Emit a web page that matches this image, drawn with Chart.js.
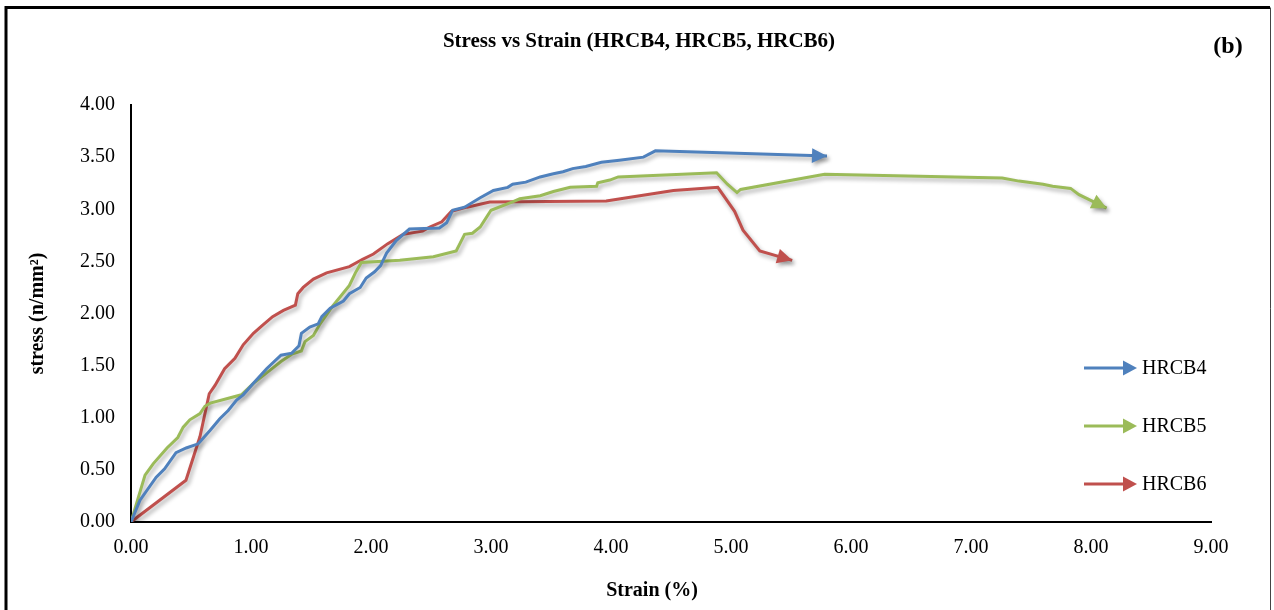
<!DOCTYPE html>
<html>
<head>
<meta charset="utf-8">
<title>Stress vs Strain (HRCB4, HRCB5, HRCB6)</title>
<script src="https://cdn.jsdelivr.net/npm/chart.js@4.4.1/dist/chart.umd.min.js"></script>
<style>
  html, body { margin: 0; padding: 0; background: #fff; }
  canvas { display: block; }
</style>
</head>
<body>
<canvas id="stressChart" width="1274" height="610"></canvas>
<script>
// series (strain in %, stress in n/mm²)
const seriesNames = ['HRCB4', 'HRCB5', 'HRCB6'];
const seriesColors = ['#4F81BD', '#9BBB59', '#C0504D'];

const strainB4 = [0, 0.075, 0.21, 0.28, 0.375, 0.46, 0.56, 0.66, 0.74, 0.81, 0.88, 0.935, 1.02, 1.13, 1.25, 1.34, 1.40, 1.42, 1.49, 1.56, 1.59, 1.66, 1.77, 1.82, 1.91, 1.96, 2.03, 2.08, 2.13, 2.21, 2.32, 2.57, 2.63, 2.68, 2.78, 2.91, 3.02, 3.14, 3.18, 3.29, 3.41, 3.52, 3.60, 3.68, 3.79, 3.92, 4.07, 4.27, 4.37, 5.80];
const stressB4 = [0, 0.21, 0.43, 0.51, 0.665, 0.71, 0.75, 0.88, 0.99, 1.07, 1.17, 1.22, 1.33, 1.47, 1.60, 1.62, 1.69, 1.81, 1.87, 1.90, 1.97, 2.05, 2.12, 2.19, 2.25, 2.34, 2.40, 2.46, 2.58, 2.70, 2.81, 2.82, 2.87, 2.99, 3.02, 3.11, 3.18, 3.21, 3.24, 3.26, 3.31, 3.34, 3.36, 3.39, 3.41, 3.45, 3.47, 3.50, 3.56, 3.51];

const strainB5 = [0, 0.117, 0.186, 0.30, 0.39, 0.435, 0.49, 0.575, 0.616, 0.66, 0.92, 1.02, 1.13, 1.25, 1.34, 1.42, 1.45, 1.52, 1.57, 1.68, 1.82, 1.87, 1.92, 2.24, 2.52, 2.71, 2.78, 2.845, 2.91, 3.00, 3.18, 3.24, 3.41, 3.52, 3.66, 3.88, 3.89, 3.99, 4.06, 4.88, 4.97, 5.05, 5.08, 5.78, 7.26, 7.40, 7.60, 7.68, 7.83, 7.90, 8.13];
const stressB5 = [0, 0.45, 0.56, 0.71, 0.81, 0.91, 0.98, 1.04, 1.11, 1.14, 1.22, 1.33, 1.43, 1.54, 1.61, 1.64, 1.73, 1.79, 1.89, 2.07, 2.27, 2.39, 2.49, 2.51, 2.545, 2.60, 2.76, 2.77, 2.83, 2.99, 3.07, 3.10, 3.13, 3.17, 3.21, 3.22, 3.255, 3.28, 3.31, 3.35, 3.24, 3.16, 3.19, 3.335, 3.30, 3.27, 3.24, 3.22, 3.20, 3.14, 3.01];

const strainB6 = [0, 0.458, 0.575, 0.652, 0.70, 0.78, 0.866, 0.935, 1.02, 1.10, 1.18, 1.27, 1.37, 1.39, 1.435, 1.52, 1.63, 1.82, 1.93, 2.02, 2.14, 2.27, 2.43, 2.49, 2.59, 2.67, 2.80, 2.99, 3.96, 4.24, 4.52, 4.89, 5.03, 5.10, 5.24, 5.51];
const stressB6 = [0, 0.40, 0.82, 1.23, 1.31, 1.47, 1.57, 1.70, 1.81, 1.89, 1.97, 2.03, 2.08, 2.19, 2.25, 2.33, 2.39, 2.45, 2.52, 2.57, 2.67, 2.76, 2.79, 2.83, 2.88, 2.98, 3.02, 3.07, 3.08, 3.13, 3.18, 3.21, 2.98, 2.80, 2.60, 2.51];

const xTicks = [0, 1, 2, 3, 4, 5, 6, 7, 8, 9];
const yTicks = [0, 0.5, 1, 1.5, 2, 2.5, 3, 3.5, 4];

const SERIF = "'Liberation Serif', 'Times New Roman', serif";

function toPoints(xs, ys) {
    return xs.map((x, i) => ({ x: x, y: ys[i] }));
}

// filled triangle, tip at (x, y), pointing along angle
function drawArrowHead(ctx, x, y, angle, len, half, color) {
    ctx.save();
    ctx.translate(x, y);
    ctx.rotate(angle);
    ctx.beginPath();
    ctx.moveTo(0, 0);
    ctx.lineTo(-len, -half);
    ctx.lineTo(-len, half);
    ctx.closePath();
    ctx.fillStyle = color;
    ctx.fill();
    ctx.restore();
}

// soft drop shadow + arrow ends on every series (Excel style)
const arrowLines = {
    id: 'arrowLines',
    beforeDatasetsDraw(chart) {
        const ctx = chart.ctx;
        ctx.save();
        ctx.shadowColor = 'rgba(0, 0, 0, 0.32)';
        ctx.shadowBlur = 4;
        ctx.shadowOffsetX = 2;
        ctx.shadowOffsetY = 3;
    },
    afterDatasetsDraw(chart) {
        const ctx = chart.ctx;
        chart.data.datasets.forEach((ds, i) => {
            const pts = chart.getDatasetMeta(i).data;
            const a = pts[pts.length - 2];
            const b = pts[pts.length - 1];
            const angle = Math.atan2(b.y - a.y, b.x - a.x);
            drawArrowHead(ctx, b.x, b.y, angle, 15, 7.5, ds.borderColor);
        });
        ctx.restore();
    }
};

// frame, chart title, panel letter, x-axis title and the arrow legend
const decorations = {
    id: 'decorations',
    afterDraw(chart) {
        const ctx = chart.ctx;
        ctx.save();

        // outer frame (no bottom edge in the reference)
        ctx.strokeStyle = '#000';
        ctx.lineWidth = 3;
        ctx.beginPath();
        ctx.moveTo(6, 610);
        ctx.lineTo(6, 7.5);
        ctx.lineTo(1270, 7.5);
        ctx.stroke();
        ctx.lineWidth = 1;
        ctx.strokeStyle = '#444';
        ctx.beginPath();
        ctx.moveTo(1270.5, 7.5);
        ctx.lineTo(1270.5, 610);
        ctx.stroke();

        ctx.fillStyle = '#000';
        ctx.textBaseline = 'middle';
        ctx.textAlign = 'center';
        ctx.font = 'bold 21px ' + SERIF;
        ctx.fillText('Stress vs Strain (HRCB4, HRCB5, HRCB6)', 639, 42);
        ctx.font = 'bold 24px ' + SERIF;
        ctx.fillText('(b)', 1228, 47);
        ctx.font = 'bold 20px ' + SERIF;
        ctx.fillText('Strain (%)', 652, 591);

        // legend
        const legendTop = 368, legendGap = 58;
        ctx.font = '20px ' + SERIF;
        ctx.textAlign = 'left';
        chart.data.datasets.forEach((ds, i) => {
            const y = legendTop + i * legendGap;
            ctx.strokeStyle = ds.borderColor;
            ctx.lineWidth = 3;
            ctx.beginPath();
            ctx.moveTo(1084, y);
            ctx.lineTo(1124, y);
            ctx.stroke();
            drawArrowHead(ctx, 1137, y, 0, 14, 7.5, ds.borderColor);
            ctx.fillStyle = '#000';
            ctx.fillText(ds.label, 1142, y + 1);
        });

        ctx.restore();
    }
};

function renderStressChart() {
    const canvas = document.getElementById('stressChart');
    const ctx = canvas.getContext('2d');

    const datasets = [
        toPoints(strainB4, stressB4),
        toPoints(strainB5, stressB5),
        toPoints(strainB6, stressB6)
    ].map((pts, i) => ({
        label: seriesNames[i],
        data: pts,
        showLine: true,
        borderColor: seriesColors[i],
        backgroundColor: seriesColors[i],
        borderWidth: 3,
        pointRadius: 0,
        tension: 0,
        fill: false
    }));

    new Chart(ctx, {
        type: 'scatter',
        data: { datasets: datasets },
        options: {
            responsive: false,
            animation: false,
            layout: { padding: { left: 10, right: 63, top: 105, bottom: 0 } },
            plugins: {
                legend: { display: false },
                tooltip: { enabled: false },
                title: { display: false }
            },
            scales: {
                x: {
                    type: 'linear',
                    min: 0,
                    max: 9,
                    afterFit: scale => { scale.height = 88; },
                    afterBuildTicks: scale => { scale.ticks = xTicks.map(v => ({ value: v })); },
                    grid: { display: false, drawTicks: false },
                    border: { display: true, color: '#000', width: 2 },
                    ticks: {
                        color: '#000',
                        padding: 14,
                        font: { family: SERIF, size: 20 },
                        callback: v => v.toFixed(2)
                    }
                },
                y: {
                    type: 'linear',
                    min: 0,
                    max: 4,
                    afterFit: scale => { scale.width = 121; },
                    afterBuildTicks: scale => { scale.ticks = yTicks.map(v => ({ value: v })); },
                    grid: { display: false, drawTicks: false },
                    border: { display: true, color: '#000', width: 2 },
                    ticks: {
                        color: '#000',
                        padding: 16,
                        font: { family: SERIF, size: 20 },
                        callback: v => v.toFixed(2)
                    },
                    title: {
                        display: true,
                        text: 'stress (n/mm²)',
                        color: '#000',
                        padding: { top: 16, bottom: 0 },
                        font: { family: SERIF, size: 20, weight: 'bold' }
                    }
                }
            }
        },
        plugins: [arrowLines, decorations]
    });
}

document.addEventListener('DOMContentLoaded', renderStressChart);
</script>
</body>
</html>
